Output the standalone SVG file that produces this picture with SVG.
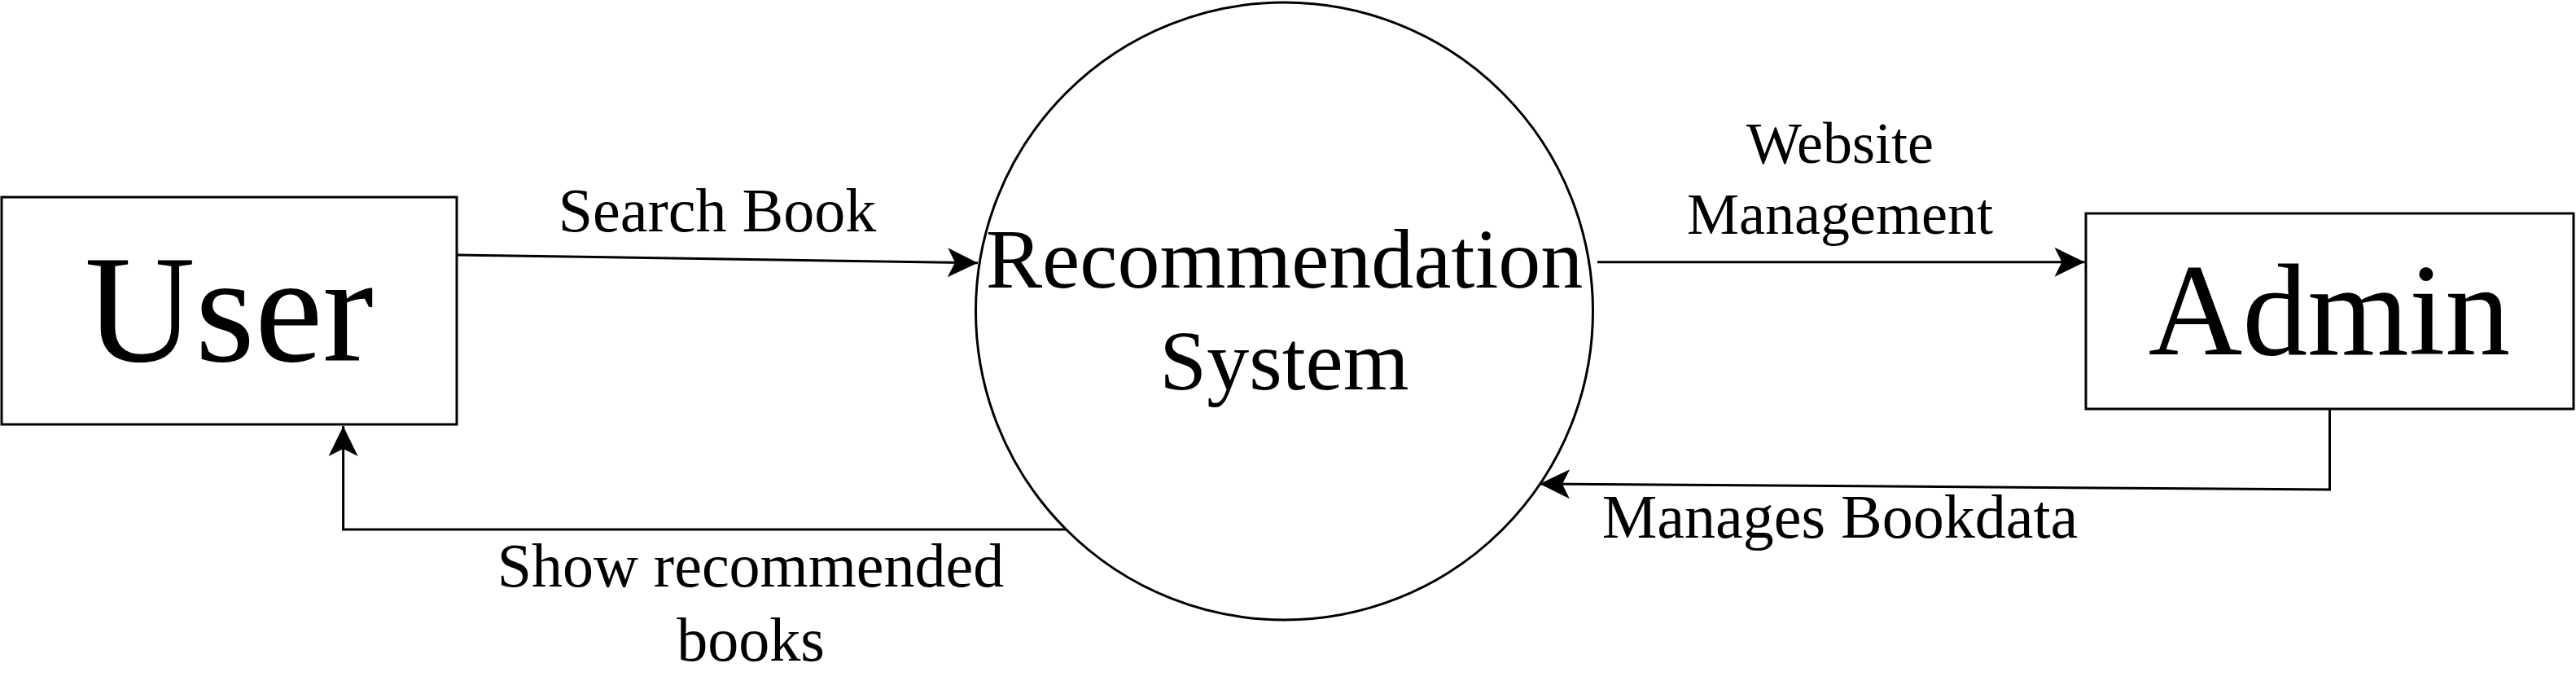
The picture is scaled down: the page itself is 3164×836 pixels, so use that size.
<svg xmlns="http://www.w3.org/2000/svg" width="3164" height="836" viewBox="0 0 3164 836">
<style>
.shape{fill:#fff;stroke:#000;stroke-width:3}
.conn{fill:none;stroke:#000;stroke-width:3}
.t{font-family:"Liberation Serif","Times New Roman",serif;fill:#000;text-anchor:middle}
</style>
<defs>
<marker id="arr" markerUnits="userSpaceOnUse" markerWidth="40" markerHeight="40" viewBox="-1 -20 40 40" refX="37" refY="0" orient="auto">
<path d="M0 -18 L37 0 L0 18 L9 0 Z" fill="#000"/>
</marker>
</defs>
<rect width="3164" height="836" fill="#fff"/>
<g id="user">
<rect class="shape" x="2" y="242" width="559" height="279"/>
<text class="t" x="281.5" y="443" font-size="188">User</text>
</g>
<g id="system">
<circle class="shape" cx="1577.5" cy="382" r="379"/>
<text class="t" x="1577.5" y="353" font-size="104">Recommendation</text>
<text class="t" x="1577.5" y="478" font-size="104">System</text>
</g>
<g id="admin">
<rect class="shape" x="2562" y="262" width="599" height="240"/>
<text class="t" x="2861" y="435" font-size="160">Admin</text>
</g>
<g id="connectors">
<path class="conn" d="M561 313 L1201 322.7" marker-end="url(#arr)"/>
<path class="conn" d="M1962 321.7 L2560.5 321.7" marker-end="url(#arr)"/>
<path class="conn" d="M2861.5 502 L2861.5 601 L1891 594" marker-end="url(#arr)"/>
<path class="conn" d="M1309.5 650 L421.6 650 L421.6 523" marker-end="url(#arr)"/>
</g>
<g id="labels">
<text class="t" x="881" y="284" font-size="76">Search Book</text>
<text class="t" x="2260" y="200" font-size="72">Website</text>
<text class="t" x="2260" y="287" font-size="72">Management</text>
<text class="t" x="2260" y="660" font-size="76">Manages Bookdata</text>
<text class="t" x="922" y="720" font-size="76">Show recommended</text>
<text class="t" x="922" y="811" font-size="76">books</text>
</g>
</svg>
